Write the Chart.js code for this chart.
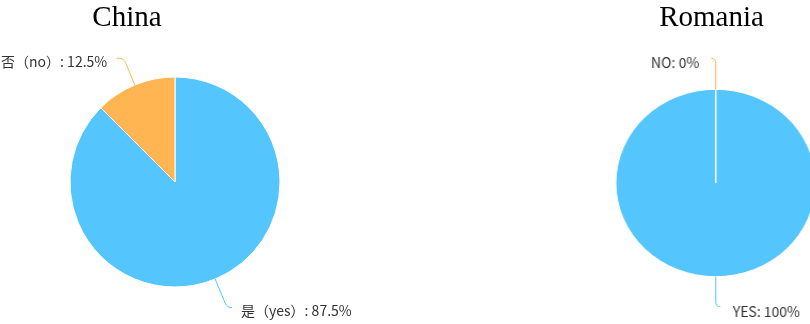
<!DOCTYPE html>
<html>
<head>
<meta charset="utf-8">
<script src="https://cdn.jsdelivr.net/npm/chart.js@4/dist/chart.umd.min.js"></script>
<style>
  html, body { margin: 0; padding: 0; background: #fff; overflow: hidden; width: 810px; height: 324px; }
  .pane { position: absolute; top: 0; width: 405px; height: 324px; }
  .title { position: absolute; top: 2px; width: 200px; text-align: center;
           font-family: "Liberation Serif", "Times New Roman", serif; font-size: 29px;
           line-height: 29px; color: #000; }
</style>
</head>
<body>
<div class="pane" id="paneCN" style="left:0"><canvas id="cn"></canvas></div>
<div class="pane" id="paneRO" style="left:405px; transform:scaleX(1.0672); transform-origin:310.7px 183px;"><canvas id="ro"></canvas></div>
<div class="title" style="left:27px">China</div>
<div class="title" style="left:611.5px">Romania</div>

<script>
// Survey answers, percentage of respondents
const chinaLabels = ['是（yes）', '否（no）'];
const chinaValues = [87.5, 12.5];
const romaniaLabels = ['YES', 'NO'];
const romaniaValues = [100, 0];
const sliceColors = ['#54C6FD', '#FFB552'];

// Draws a bent leader line from each slice edge plus a "name: value%" label.
const sliceLabels = {
  id: 'sliceLabels',
  afterDatasetsDraw(chart, args, opts) {
    const ctx = chart.ctx;
    const meta = chart.getDatasetMeta(0);
    const ds = chart.data.datasets[0];
    const sx = opts.scaleX || 1;
    meta.data.forEach((arc, i) => {
      const lead = opts.leaders[i];
      const p = arc.getProps(['x', 'y', 'startAngle', 'endAngle', 'outerRadius'], true);
      const mid = (p.startAngle + p.endAngle) / 2;
      const dx = Math.cos(mid), dy = Math.sin(mid);
      const p0 = { x: p.x + dx * p.outerRadius, y: p.y + dy * p.outerRadius };
      const p1 = { x: p0.x + dx * lead.len1, y: p0.y + dy * lead.len1 };
      const p2 = { x: p1.x + lead.side * lead.len2 / sx, y: p1.y };
      const r = lead.bend;
      const a = { x: p1.x - dx * r, y: p1.y - dy * r };
      const b = { x: p1.x + lead.side * Math.min(r, lead.len2) / sx, y: p1.y };

      ctx.save();
      ctx.strokeStyle = ds.backgroundColor[i];
      ctx.lineWidth = 1;
      ctx.beginPath();
      ctx.moveTo(p0.x, p0.y);
      ctx.lineTo(a.x, a.y);
      ctx.quadraticCurveTo(p1.x, p1.y, b.x, b.y);
      ctx.lineTo(p2.x, p2.y);
      ctx.stroke();

      const text = chart.data.labels[i] + ': ' + ds.data[i] + '%';
      ctx.translate(p2.x + lead.side * lead.gap / sx, p2.y + lead.dy);
      ctx.scale(1 / sx, 1);
      ctx.font = '14px "Noto Sans CJK SC", "Noto Sans", sans-serif';
      ctx.fillStyle = '#333333';
      ctx.textBaseline = 'middle';
      ctx.textAlign = lead.side < 0 ? 'right' : 'left';
      ctx.fillText(text, 0, 0);
      ctx.restore();
    });
  }
};

function pieConfig(labels, values, padding, leaders, scaleX) {
  return {
    type: 'pie',
    data: {
      labels: labels,
      datasets: [{
        data: values,
        backgroundColor: sliceColors,
        borderColor: '#ffffff',
        borderWidth: 1
      }]
    },
    options: {
      responsive: true,
      maintainAspectRatio: false,
      animation: false,
      events: [],
      devicePixelRatio: 1,
      layout: { padding: padding },
      plugins: {
        legend: { display: false },
        tooltip: { enabled: false },
        title: { display: false },
        sliceLabels: { leaders: leaders, scaleX: scaleX }
      }
    },
    plugins: [sliceLabels]
  };
}

new Chart(document.getElementById('cn'), pieConfig(
  chinaLabels, chinaValues,
  { left: 69.5, right: 124.5, top: 76.5, bottom: 36.5 },
  [
    { len1: 31, len2: 5, side: 1, bend: 5, gap: 9, dy: 3.5 },
    { len1: 29, len2: 7, side: -1, bend: 5, gap: 9.5, dy: 3 }
  ],
  1
));

new Chart(document.getElementById('ro'), pieConfig(
  romaniaLabels, romaniaValues,
  { left: 216.5, right: 0, top: 88.8, bottom: 46.8 },
  [
    { len1: 30, len2: 4.5, side: 1, bend: 5, gap: 12.5, dy: 4.5 },
    { len1: 31, len2: 4.5, side: -1, bend: 5, gap: 12, dy: 4 }
  ],
  1.0672
));
</script>
</body>
</html>
